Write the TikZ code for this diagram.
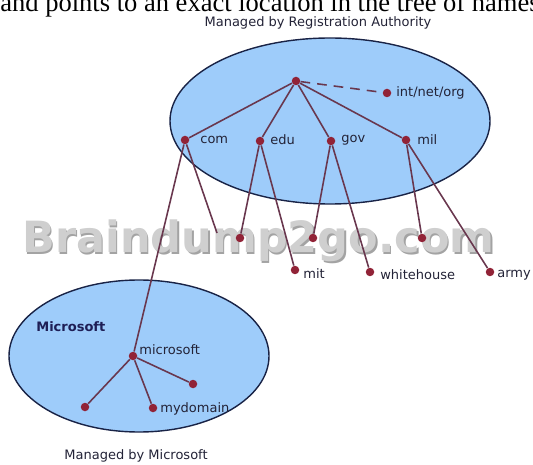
\documentclass[tikz,border=0pt]{standalone}
\usepackage{fontspec}
\setmainfont{DejaVu Sans}
\newfontfamily\capfont{Liberation Serif}
\usetikzlibrary{positioning}

\definecolor{zonefill}{RGB}{158,204,250}
\definecolor{zoneline}{RGB}{25,35,70}
\definecolor{linkcol}{RGB}{105,55,78}
\definecolor{dotcol}{RGB}{145,35,55}
\definecolor{textcol}{RGB}{35,35,55}
\definecolor{navy}{RGB}{30,30,85}

\begin{document}
\begin{tikzpicture}
[
	           x = 0.02cm,
	           y = -0.02cm,
	  dot/.style = { circle, fill=dotcol, inner sep=0pt, minimum size=0.17cm },
	  txt/.style = { text=textcol, inner sep=0pt, anchor=west, font=\fontsize{7.4}{8}\selectfont },
	 head/.style = { txt, anchor=center },
	 link/.style = { draw=linkcol, line width=0.9pt },
	 zone/.style = { draw=zoneline, fill=zonefill, line width=0.8pt },
	wmark/.style = { anchor=base west, inner sep=0pt, font=\bfseries\fontsize{24.5}{26}\selectfont }
]
	\useasboundingbox (0,0) rectangle (533,465);

	% line of running text cut off above the figure
	\node (cap) at (0,12) [anchor=base west, inner sep=0pt, font=\capfont\fontsize{15.1}{16}\selectfont]
		{and points to an exact location in the tree of names};

	% the two zones
	\draw [zone] (330,121) ellipse [x radius=160, y radius=83];
	\draw [zone] (139,356) ellipse [x radius=130, y radius=76];

	\node (ra)   at (318,23)  [head] {Managed by Registration Authority};
	\node (ms)   at (136,456) [head] {Managed by Microsoft};
	\node (msb)  at (36,327)  [txt, text=navy, font=\bfseries\fontsize{7.4}{8}\selectfont] {Microsoft};

	% watermark
	\node (wm0) at (23.5,254.5) [wmark, text=black!36] {Braindump2go.com};
	\node (wm)  at (22,253)     [wmark, text=black!19] {Braindump2go.com};

	% registration authority tree
	\node (11) at (296,81)  [dot] {};
	\node (12) at (387,93)  [dot] {};
	\node (21) at (185,140) [dot] {};
	\node (22) at (260,141) [dot] {};
	\node (23) at (331,141) [dot] {};
	\node (24) at (406,140) [dot] {};
	\coordinate (31) at (217,233);
	\node (32) at (240,238) [dot] {};
	\node (33) at (295,270) [dot] {};
	\node (34) at (313,238) [dot] {};
	\node (35) at (370,272) [dot] {};
	\node (36) at (422,238) [dot] {};
	\node (37) at (490,272) [dot] {};

	% microsoft tree
	\node (41) at (133,356) [dot] {};
	\node (42) at (85,407)  [dot] {};
	\node (43) at (153,408) [dot] {};
	\node (44) at (193,384) [dot] {};

	\draw [link] (11) edge (21) (11) edge (22) (11) edge (23) (11) edge (24);
	\draw [link, dash pattern=on 5.5pt off 4pt] (11) -- (12);
	\draw [link] (21) edge (31) (21) edge (41);
	\draw [link] (22) edge (32) (22) edge (33);
	\draw [link] (23) edge (34) (23) edge (35);
	\draw [link] (24) edge (36) (24) edge (37);
	\draw [link] (41) edge (42) (41) edge (43) (41) edge (44);

	% names
	\node (12t) at (396,93)  [txt] {int/net/org};
	\node (21t) at (200,140) [txt] {com};
	\node (22t) at (270,140) [txt] {edu};
	\node (23t) at (341,140) [txt] {gov};
	\node (24t) at (417,140) [txt] {mil};
	\node (33t) at (303,274) [txt] {mit};
	\node (35t) at (380,275) [txt] {whitehouse};
	\node (37t) at (497,275) [txt] {army};
	\node (41t) at (139,350) [txt] {microsoft};
	\node (43t) at (160,409) [txt] {mydomain};
\end{tikzpicture}
\end{document}
